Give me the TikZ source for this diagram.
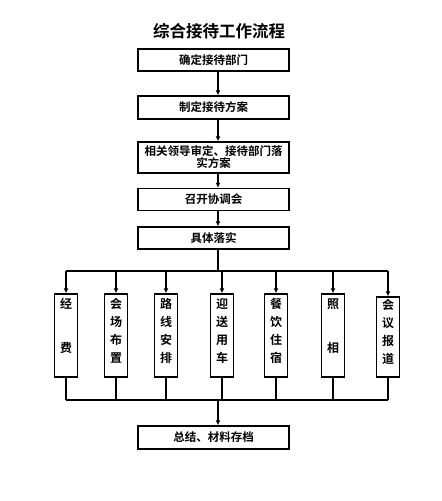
\documentclass[tikz,border=0pt]{standalone}
\usepackage{fontspec}
\setmainfont{Noto Sans CJK SC}[BoldFont={* Bold}]
\usetikzlibrary{arrows.meta}
\begin{document}
\begin{tikzpicture}[x=1pt,y=-1pt,
  hbox/.style={draw,line width=1.4pt,minimum width=151pt,inner sep=0pt,font=\bfseries\fontsize{11.5}{12}\selectfont,align=center},
  vbox/.style={draw,line width=1.4pt,minimum width=23pt,inner sep=0pt},
  vch/.style={font=\bfseries\fontsize{12}{12}\selectfont,inner sep=0pt},
  conn/.style={line width=1.1pt},
  arr/.style={line width=1.1pt,-{Latex[length=5pt,width=5pt]}}]
\useasboundingbox (0,0) rectangle (442,501);
\node[font=\bfseries\fontsize{16.5}{17}\selectfont] (title) at (219,31) {综合接待工作流程};
\node[hbox,minimum height=22pt] (b1) at (213.5,60) {确定接待部门};
\node[hbox,minimum height=23pt] (b2) at (213.5,107.5) {制定接待方案};
\node[hbox,minimum height=31pt,font=\bfseries\fontsize{11.5}{11}\selectfont] (b3) at (213.5,157.5) {相关领导审定、接待部门落\\实方案};
\node[hbox,minimum height=22pt] (b4) at (213.5,199.5) {召开协调会};
\node[hbox,minimum height=22pt] (b5) at (213.5,238) {具体落实};
\node[hbox,minimum height=23pt] (b6) at (213.5,437.5) {总结、材料存档};
\coordinate (m) at (218,0);
\draw[arr] (b1.south -| m) -- (b2.north -| m);
\draw[arr] (b2.south -| m) -- (b3.north -| m);
\draw[arr] (b3.south -| m) -- (b4.north -| m);
\draw[arr] (b4.south -| m) -- (b5.north -| m);
\coordinate (hj) at (218,271);
\draw[conn] (b5.south -| m) -- (hj);
% vertical boxes
\foreach \n/\x/\t in {v1/66/294, v2/116/294, v3/166/294, v4/222/294, v5/276/294, v6/333/294, v7/388/297}{
  \node[vbox,minimum height={377-\t}] (\n) at (\x,{(377+\t)/2}) {};
}
\coordinate (L) at (66,271);
\coordinate (R) at (388,271);
\draw[conn] (L) -- (R);
\foreach \n in {v1,v2,v3,v4,v5,v6,v7}{
  \draw[arr] (\n.north |- L) -- (\n.north);
}
\coordinate (BL) at (66,400);
\coordinate (BR) at (388,400);
\draw[conn] (BL) -- (BR);
\foreach \n in {v1,v2,v3,v4,v5,v6,v7}{
  \draw[conn] (\n.south) -- (\n.south |- BL);
}
\coordinate (bj) at (218,400);
\draw[arr] (bj) -- (b6.north -| bj);
% characters
\node[vch] (c11) at (66,304) {经};
\node[vch] (c12) at (66,348) {费};
\node[vch] (c21) at (116,304) {会};
\node[vch] (c22) at (116,322) {场};
\node[vch] (c23) at (116,340) {布};
\node[vch] (c24) at (116,358) {置};
\node[vch] (c31) at (166,304) {路};
\node[vch] (c32) at (166,322) {线};
\node[vch] (c33) at (166,340) {安};
\node[vch] (c34) at (166,358) {排};
\node[vch] (c41) at (222,304) {迎};
\node[vch] (c42) at (222,322) {送};
\node[vch] (c43) at (222,340) {用};
\node[vch] (c44) at (222,358) {车};
\node[vch] (c51) at (276,304) {餐};
\node[vch] (c52) at (276,322) {饮};
\node[vch] (c53) at (276,340) {住};
\node[vch] (c54) at (276,358) {宿};
\node[vch] (c61) at (333,304) {照};
\node[vch] (c62) at (333,348) {相};
\node[vch] (c71) at (388,305) {会};
\node[vch] (c72) at (388,323) {议};
\node[vch] (c73) at (388,341) {报};
\node[vch] (c74) at (388,359) {道};
\end{tikzpicture}
\end{document}
